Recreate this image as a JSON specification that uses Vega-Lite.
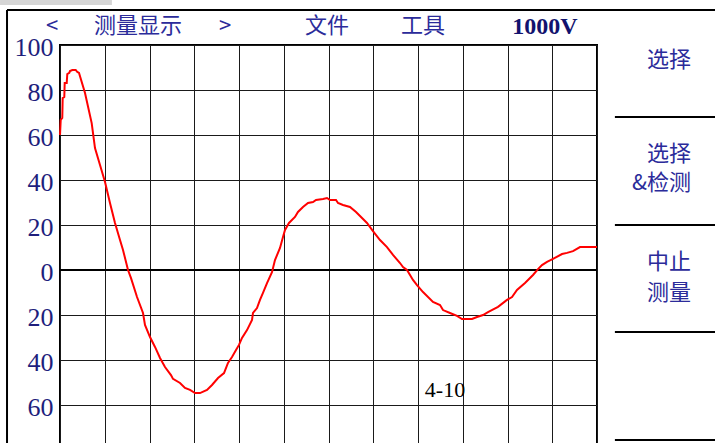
{
  "$schema": "https://vega.github.io/schema/vega-lite/v6.json",
  "width": 537,
  "height": 405,
  "autosize": "none",
  "padding": {"left": 60, "top": 45, "right": 118, "bottom": 0},
  "background": "white",
  "config": {
    "view": {"stroke": "black", "strokeWidth": 2},
    "axis": {"gridColor": "#1a1a1a", "gridOpacity": 1, "gridWidth": 1, "labelFont": "Liberation Serif"}
  },
  "datasets": {
    "curve": [
      {"x": 0, "y": 60}, {"x": 0.016, "y": 66.7}, {"x": 0.051, "y": 67.6}, {"x": 0.06, "y": 76.4},
      {"x": 0.096, "y": 76.9}, {"x": 0.105, "y": 83.1}, {"x": 0.15, "y": 83.1}, {"x": 0.163, "y": 87.1},
      {"x": 0.208, "y": 87.6}, {"x": 0.223, "y": 88.4}, {"x": 0.275, "y": 88.9}, {"x": 0.351, "y": 88.9},
      {"x": 0.387, "y": 88.0}, {"x": 0.425, "y": 87.6}, {"x": 0.559, "y": 78.7}, {"x": 0.708, "y": 65.3},
      {"x": 0.782, "y": 54.2}, {"x": 0.894, "y": 46.7}, {"x": 1.006, "y": 39.1}, {"x": 1.117, "y": 29.8},
      {"x": 1.229, "y": 20.9}, {"x": 1.341, "y": 13.3}, {"x": 1.408, "y": 8.9}, {"x": 1.52, "y": 0},
      {"x": 1.587, "y": -3.6}, {"x": 1.721, "y": -12}, {"x": 1.855, "y": -19.1}, {"x": 1.899, "y": -24.4},
      {"x": 2.011, "y": -29.8}, {"x": 2.123, "y": -34.2}, {"x": 2.235, "y": -39.1}, {"x": 2.346, "y": -43.1},
      {"x": 2.48, "y": -46.7}, {"x": 2.525, "y": -48.4}, {"x": 2.682, "y": -50.2}, {"x": 2.793, "y": -52.4},
      {"x": 2.905, "y": -53.3}, {"x": 3.017, "y": -54.7}, {"x": 3.128, "y": -54.7}, {"x": 3.285, "y": -53.3},
      {"x": 3.397, "y": -51.1}, {"x": 3.531, "y": -48}, {"x": 3.665, "y": -45.8}, {"x": 3.754, "y": -41.3},
      {"x": 3.844, "y": -38.7}, {"x": 3.933, "y": -35.6}, {"x": 4.0, "y": -33.3}, {"x": 4.067, "y": -30.2},
      {"x": 4.179, "y": -26.7}, {"x": 4.291, "y": -22.2}, {"x": 4.313, "y": -19.1}, {"x": 4.402, "y": -16.9},
      {"x": 4.469, "y": -13.3}, {"x": 4.536, "y": -10.2}, {"x": 4.626, "y": -5.8}, {"x": 4.737, "y": -1},
      {"x": 4.804, "y": 4.4}, {"x": 4.916, "y": 9.8}, {"x": 4.983, "y": 14.7}, {"x": 5.028, "y": 17.8},
      {"x": 5.117, "y": 20.9}, {"x": 5.251, "y": 23.6}, {"x": 5.318, "y": 25.8}, {"x": 5.43, "y": 28},
      {"x": 5.542, "y": 29.8}, {"x": 5.654, "y": 30.2}, {"x": 5.721, "y": 31.1}, {"x": 5.877, "y": 31.6},
      {"x": 5.966, "y": 32}, {"x": 6.034, "y": 31.1}, {"x": 6.168, "y": 31.1}, {"x": 6.212, "y": 29.8},
      {"x": 6.324, "y": 28.9}, {"x": 6.48, "y": 28}, {"x": 6.615, "y": 25.8}, {"x": 6.749, "y": 23.1},
      {"x": 6.86, "y": 20.9}, {"x": 6.994, "y": 17.3}, {"x": 7.151, "y": 13.3}, {"x": 7.307, "y": 10.2},
      {"x": 7.441, "y": 6.7}, {"x": 7.598, "y": 3.1}, {"x": 7.665, "y": 1.3}, {"x": 7.754, "y": 0},
      {"x": 7.888, "y": -4.4}, {"x": 7.978, "y": -6.7}, {"x": 8.112, "y": -9.8}, {"x": 8.335, "y": -14.2},
      {"x": 8.492, "y": -15.6}, {"x": 8.559, "y": -17.8}, {"x": 8.715, "y": -19.1}, {"x": 8.872, "y": -20.4},
      {"x": 8.983, "y": -21.8}, {"x": 9.207, "y": -21.8}, {"x": 9.318, "y": -20.9}, {"x": 9.453, "y": -20},
      {"x": 9.564, "y": -18.7}, {"x": 9.788, "y": -16.4}, {"x": 9.989, "y": -13.3}, {"x": 10.101, "y": -12},
      {"x": 10.212, "y": -8.9}, {"x": 10.391, "y": -5.8}, {"x": 10.57, "y": -2.2}, {"x": 10.682, "y": 0.4},
      {"x": 10.771, "y": 2.2}, {"x": 10.883, "y": 3.6}, {"x": 11.017, "y": 4.9}, {"x": 11.218, "y": 7.1},
      {"x": 11.33, "y": 7.6}, {"x": 11.464, "y": 8.4}, {"x": 11.62, "y": 10.2}, {"x": 11.777, "y": 10.2},
      {"x": 12.0, "y": 10.2}
    ],
    "frame": [
      {"x": -1.184, "x2": 14.7, "y": 115.6, "y2": 115.6},
      {"x": -1.184, "x2": -1.184, "y": 115.6, "y2": -90},
      {"x": 12.4, "x2": 14.7, "y": 68, "y2": 68},
      {"x": 12.4, "x2": 14.7, "y": 20, "y2": 20},
      {"x": 12.4, "x2": 14.7, "y": -27.6, "y2": -27.6},
      {"x": 12.4, "x2": 14.7, "y": -75.6, "y2": -75.6}
    ],
    "labels": [
      {"group": "head", "label": "<", "x": -0.179, "y": 108.5},
      {"group": "head", "label": "测量显示", "x": 1.743, "y": 108.5},
      {"group": "head", "label": ">", "x": 3.687, "y": 108.5},
      {"group": "head", "label": "文件", "x": 5.966, "y": 108.5},
      {"group": "head", "label": "工具", "x": 8.112, "y": 108.5},
      {"group": "bold", "label": "1000V", "x": 10.838, "y": 108.2},
      {"group": "side", "label": "选择", "x": 14.1, "y": 93.3},
      {"group": "side", "label": "选择", "x": 14.1, "y": 51.5},
      {"group": "side", "label": "&检测", "x": 14.1, "y": 38.7},
      {"group": "side", "label": "中止", "x": 14.1, "y": 3.5},
      {"group": "side", "label": "测量", "x": 14.1, "y": -10.2},
      {"group": "note", "label": "4-10", "x": 8.603, "y": -53.3}
    ],
    "bar": [
      {"x": -1.34, "x2": 1.16, "y": 120, "y2": 117.8}
    ]
  },
  "layer": [
    {
      "data": {"name": "bar"},
      "mark": {"type": "rect", "color": "#d6d6d6"},
      "encoding": {
        "x": {"field": "x", "type": "quantitative", "title": null},
        "x2": {"field": "x2"},
        "y": {"field": "y", "type": "quantitative", "title": null},
        "y2": {"field": "y2"}
      }
    },
    {
      "data": {"values": [{"y": 0}]},
      "mark": {"type": "rule", "color": "black", "strokeWidth": 2},
      "encoding": {"y": {"field": "y", "type": "quantitative", "title": null}}
    },
    {
      "data": {"name": "curve"},
      "mark": {"type": "line", "color": "#ff0000", "strokeWidth": 2},
      "encoding": {
        "x": {
          "field": "x", "type": "quantitative", "title": null,
          "scale": {"domain": [0, 12], "nice": false, "zero": false},
          "axis": {"values": [0,1,2,3,4,5,6,7,8,9,10,11,12], "grid": true, "labels": false, "ticks": false, "domain": false}
        },
        "y": {
          "field": "y", "type": "quantitative", "title": null,
          "scale": {"domain": [-80, 100], "nice": false, "zero": false},
          "axis": {
            "values": [-80,-60,-40,-20,0,20,40,60,80,100], "grid": true, "ticks": false, "domain": false,
            "labelExpr": "toString(abs(datum.value))",
            "labelFont": "Liberation Serif", "labelFontSize": 26, "labelColor": "#1e1e7c",
            "labelPadding": 7, "labelOffset": 2, "labelBound": false, "labelOverlap": false
          }
        }
      }
    },
    {
      "data": {"name": "frame"},
      "mark": {"type": "rule", "color": "black", "strokeWidth": 2},
      "encoding": {
        "x": {"field": "x", "type": "quantitative", "title": null},
        "x2": {"field": "x2"},
        "y": {"field": "y", "type": "quantitative", "title": null},
        "y2": {"field": "y2"}
      }
    },
    {
      "data": {"name": "labels"},
      "transform": [{"filter": "datum.group == 'head'"}],
      "mark": {"type": "text", "font": "Noto Sans CJK SC", "fontSize": 22, "color": "#2b2b9a", "align": "center", "baseline": "middle"},
      "encoding": {
        "x": {"field": "x", "type": "quantitative", "title": null},
        "y": {"field": "y", "type": "quantitative", "title": null},
        "text": {"field": "label"}
      }
    },
    {
      "data": {"name": "labels"},
      "transform": [{"filter": "datum.group == 'bold'"}],
      "mark": {"type": "text", "font": "Liberation Serif", "fontWeight": "bold", "fontSize": 24, "color": "#12126e", "align": "center", "baseline": "middle"},
      "encoding": {
        "x": {"field": "x", "type": "quantitative", "title": null},
        "y": {"field": "y", "type": "quantitative", "title": null},
        "text": {"field": "label"}
      }
    },
    {
      "data": {"name": "labels"},
      "transform": [{"filter": "datum.group == 'side'"}],
      "mark": {"type": "text", "font": "Noto Sans CJK SC", "fontSize": 22, "color": "#2b2b9a", "align": "right", "baseline": "middle"},
      "encoding": {
        "x": {"field": "x", "type": "quantitative", "title": null},
        "y": {"field": "y", "type": "quantitative", "title": null},
        "text": {"field": "label"}
      }
    },
    {
      "data": {"name": "labels"},
      "transform": [{"filter": "datum.group == 'note'"}],
      "mark": {"type": "text", "font": "Liberation Serif", "fontSize": 22, "color": "black", "align": "center", "baseline": "middle"},
      "encoding": {
        "x": {"field": "x", "type": "quantitative", "title": null},
        "y": {"field": "y", "type": "quantitative", "title": null},
        "text": {"field": "label"}
      }
    }
  ]
}
